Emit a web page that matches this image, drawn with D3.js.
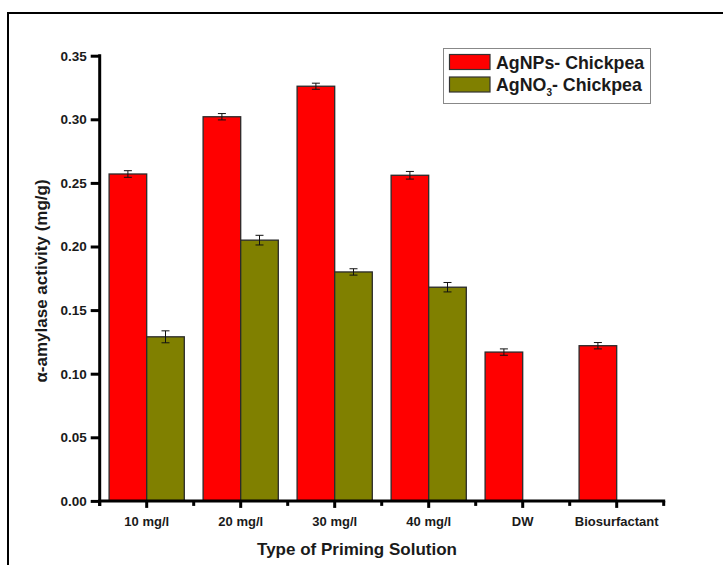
<!DOCTYPE html>
<html>
<head>
<meta charset="utf-8">
<script src="https://cdn.jsdelivr.net/npm/d3@7"></script>
<style>
  html, body { margin: 0; padding: 0; background: #fff; }
  svg { display: block; }
  text { font-family: "Liberation Sans", Arial, Helvetica, sans-serif; font-weight: bold; fill: #1a1a1a; }
</style>
</head>
<body>
<svg id="chart" width="723" height="565"></svg>
<script>
// α-amylase activity of chickpea seeds after priming
const categories = ["10 mg/l", "20 mg/l", "30 mg/l", "40 mg/l", "DW", "Biosurfactant"];
const agnpsValues = [0.257, 0.302, 0.326, 0.256, 0.117, 0.122];
const agnpsErrors = [0.0026, 0.0025, 0.0024, 0.0030, 0.0025, 0.0025];
const agno3Values = [0.129, 0.205, 0.180, 0.168, null, null];
const agno3Errors = [0.0047, 0.0038, 0.0025, 0.0037, null, null];
const yTickValues = [0.00, 0.05, 0.10, 0.15, 0.20, 0.25, 0.30, 0.35];

const seriesNames = ["AgNPs- Chickpea", "AgNO3- Chickpea"];
const seriesColors = ["#ff0000", "#808000"];

const svg = d3.select("#chart");

// outer frame
svg.append("rect")
  .attr("x", 8).attr("y", 13)
  .attr("width", 800).attr("height", 700)
  .attr("fill", "none").attr("stroke", "#000").attr("stroke-width", 2);

const plot = { left: 99.7, right: 663.7, top: 55.7, bottom: 500.9 };

const x = d3.scaleBand().domain(categories).range([plot.left, plot.right]).padding(0);
const y = d3.scaleLinear().domain([0, 0.35]).range([plot.bottom, plot.top]);
const barW = x.bandwidth() * 0.4;
const center = c => x(c) + x.bandwidth() / 2;

// bars
const series = [
  { values: agnpsValues, errors: agnpsErrors, color: seriesColors[0], offset: -barW },
  { values: agno3Values, errors: agno3Errors, color: seriesColors[1], offset: 0 }
];

series.forEach(s => {
  const rows = categories.map((c, i) => ({ c, v: s.values[i], e: s.errors[i] }))
    .filter(d => d.v !== null);
  const g = svg.append("g");
  g.selectAll("rect").data(rows).enter().append("rect")
    .attr("x", d => center(d.c) + s.offset)
    .attr("y", d => y(d.v))
    .attr("width", barW)
    .attr("height", d => y(0) - y(d.v))
    .attr("fill", s.color)
    .attr("stroke", "#2a2a2a")
    .attr("stroke-width", 1.3);

  // error bars
  const eg = g.selectAll("g.err").data(rows).enter().append("g")
    .attr("stroke", "#111").attr("stroke-width", 1);
  const mid = d => center(d.c) + s.offset + barW / 2;
  eg.append("line")
    .attr("x1", mid).attr("x2", mid)
    .attr("y1", d => y(d.v + d.e)).attr("y2", d => y(d.v - d.e));
  eg.append("line")
    .attr("x1", d => mid(d) - 4).attr("x2", d => mid(d) + 4)
    .attr("y1", d => y(d.v + d.e)).attr("y2", d => y(d.v + d.e));
  eg.append("line")
    .attr("x1", d => mid(d) - 4).attr("x2", d => mid(d) + 4)
    .attr("y1", d => y(d.v - d.e)).attr("y2", d => y(d.v - d.e));
});

// y axis
const yAxis = d3.axisLeft(y).tickValues(yTickValues).tickFormat(d3.format(".2f"))
  .tickSize(9).tickPadding(4);
const yg = svg.append("g").attr("transform", `translate(${plot.left},0)`).call(yAxis);
yg.select(".domain").remove();
yg.selectAll(".tick line").attr("stroke", "#000").attr("stroke-width", 3);
yg.selectAll(".tick text").style("font-size", "13.5px").attr("fill", "#1a1a1a");
svg.append("line")
  .attr("x1", plot.left).attr("x2", plot.left)
  .attr("y1", plot.top - 1.5).attr("y2", plot.bottom + 5)
  .attr("stroke", "#000").attr("stroke-width", 3);

// x axis: major ticks at category centres, minor ticks at band edges
const xAxis = d3.axisBottom(x).tickSize(7).tickPadding(9);
const xg = svg.append("g").attr("transform", `translate(0,${plot.bottom})`).call(xAxis);
xg.select(".domain").remove();
xg.selectAll(".tick line").attr("stroke", "#000").attr("stroke-width", 3);
xg.selectAll(".tick text").style("font-size", "13px").attr("fill", "#1a1a1a");
const edges = categories.map(c => x(c)).concat([plot.right]);
svg.append("g").selectAll("line").data(edges).enter().append("line")
  .attr("x1", d => d).attr("x2", d => d)
  .attr("y1", plot.bottom).attr("y2", plot.bottom + 5)
  .attr("stroke", "#000").attr("stroke-width", 3);
svg.append("line")
  .attr("x1", plot.left - 1.5).attr("x2", plot.right + 1.5)
  .attr("y1", plot.bottom).attr("y2", plot.bottom)
  .attr("stroke", "#000").attr("stroke-width", 3);

// axis titles
svg.append("text")
  .attr("x", 357).attr("y", 555)
  .attr("text-anchor", "middle")
  .style("font-size", "17px")
  .text("Type of Priming Solution");

svg.append("text")
  .attr("transform", "translate(47,281) rotate(-90)")
  .attr("text-anchor", "middle")
  .style("font-size", "17px")
  .text("α-amylase activity (mg/g)");

// legend
const lg = svg.append("g");
lg.append("rect")
  .attr("x", 443.5).attr("y", 48.5).attr("width", 207).attr("height", 55)
  .attr("fill", "#fff").attr("stroke", "#888").attr("stroke-width", 1);
const legendRows = [0, 1];
lg.selectAll("rect.sw").data(legendRows).enter().append("rect")
  .attr("class", "sw")
  .attr("x", 449.5).attr("y", d => 54.5 + d * 22.5)
  .attr("width", 40.5).attr("height", 15)
  .attr("fill", d => seriesColors[d]).attr("stroke", "#333").attr("stroke-width", 1.2);
lg.append("text").attr("x", 496).attr("y", 68.5).style("font-size", "17.8px")
  .text(seriesNames[0]);
const t2 = lg.append("text").attr("x", 496).attr("y", 91).style("font-size", "17.8px");
t2.append("tspan").text("AgNO");
t2.append("tspan").attr("dy", 5).style("font-size", "10px").text("3");
t2.append("tspan").attr("dy", -5).text("- Chickpea");
</script>
</body>
</html>
